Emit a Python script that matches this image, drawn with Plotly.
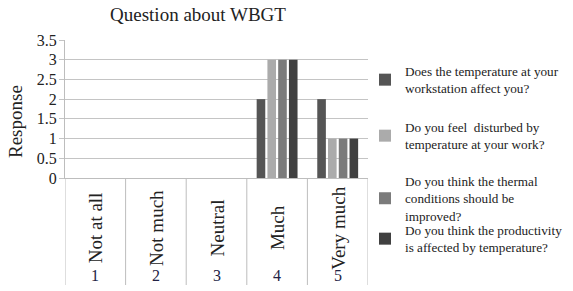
import plotly.graph_objects as go

category_numbers = ["1", "2", "3", "4", "5"]
categories = ["Not at all", "Not much", "Neutral", "Much", "Very much"]
series_names = [
    "Does the temperature at your<br>workstation affect you?",
    "Do you feel  disturbed by<br>temperature at your work?",
    "Do you think the thermal<br>conditions should be<br>improved?",
    "Do you think the productivity<br>is affected by temperature?",
]
series_values = [
    [0, 0, 0, 2, 2],
    [0, 0, 0, 3, 1],
    [0, 0, 0, 3, 1],
    [0, 0, 0, 3, 1],
]
series_colors = ["#555555", "#ababab", "#7b7b7b", "#404040"]
y_ticks = [0, 0.5, 1, 1.5, 2, 2.5, 3, 3.5]

W, H = 573, 291
SERIF = "Liberation Serif"

fig = go.Figure()
legend_keys = ["legend", "legend2", "legend3", "legend4"]
for name, vals, col, lk in zip(series_names, series_values, series_colors, legend_keys):
    fig.add_trace(go.Bar(x=categories, y=vals, name=name, marker_color=col,
                         marker_line_width=0, legend=lk))

legend_tops = [56, 112, 166, 215]
layout_legends = {}
for lk, top in zip(legend_keys, legend_tops):
    layout_legends[lk] = dict(
        xref="container", yref="container", x=(405 - 40) / W, y=1 - top / H,
        xanchor="left", yanchor="top", bgcolor="rgba(0,0,0,0)",
        font=dict(family=SERIF, size=13.2, color="#222222"),
        itemclick=False, itemdoubleclick=False)

fig.update_layout(
    width=W, height=H,
    margin=dict(l=65, r=205, t=40, b=113, autoexpand=False),
    paper_bgcolor="white", plot_bgcolor="white",
    barmode="group", bargap=0.29, bargroupgap=0.2,
    showlegend=True,
    title=dict(text="Question about WBGT", xref="container", yref="container",
               x=198 / W, xanchor="center", y=1 - 14 / H, yanchor="middle",
               font=dict(family=SERIF, size=19, color="#222222")),
    font=dict(family=SERIF, color="#222222"),
    **layout_legends,
)

fig.update_yaxes(range=[0, 3.5], tickvals=y_ticks,
                 ticktext=[f"{v:g}" for v in y_ticks],
                 showgrid=True, gridcolor="#c4c4c4", gridwidth=1,
                 showline=True, linecolor="#bdbdbd", linewidth=1,
                 ticks="outside", ticklen=5, tickcolor="#c4c4c4",
                 ticklabelstandoff=-1, automargin=False,
                 tickfont=dict(family=SERIF, size=16, color="#222222"),
                 zeroline=False, fixedrange=True)
fig.update_xaxes(type="category", showticklabels=False, showgrid=False,
                 showline=True, linecolor="#bdbdbd", linewidth=1,
                 ticks="", zeroline=False, fixedrange=True, automargin=False,
                 range=[-0.5, 4.5])

# category separators
for i in range(len(categories) + 1):
    fig.add_shape(type="line", xref="x", yref="paper",
                  x0=i - 0.5, x1=i - 0.5, y0=0, y1=-(285 - 178) / 138,
                  line=dict(color="#bdbdbd", width=1))

# two-level category labels
for i, (num, nm) in enumerate(zip(category_numbers, categories)):
    fig.add_annotation(x=nm, xref="x", yref="paper", y=-(228 - 178) / 138,
                       text=nm, textangle=-90, showarrow=False,
                       xanchor="center", yanchor="middle",
                       font=dict(family=SERIF, size=19, color="#222222"))
    fig.add_annotation(x=nm, xref="x", yref="paper", y=-(275 - 178) / 138,
                       text=num, showarrow=False,
                       xanchor="center", yanchor="middle",
                       font=dict(family=SERIF, size=16, color="#222244"))

fig.add_annotation(text="Response", textangle=-90, showarrow=False,
                   xref="paper", yref="paper", x=-(65 - 15) / 303, y=(178 - 122) / 138,
                   xanchor="center", yanchor="middle",
                   font=dict(family=SERIF, size=19, color="#222222"))

fig.write_html("out.html", config={"displayModeBar": False},
               post_script="document.body.style.margin='0';document.body.style.padding='0';")
